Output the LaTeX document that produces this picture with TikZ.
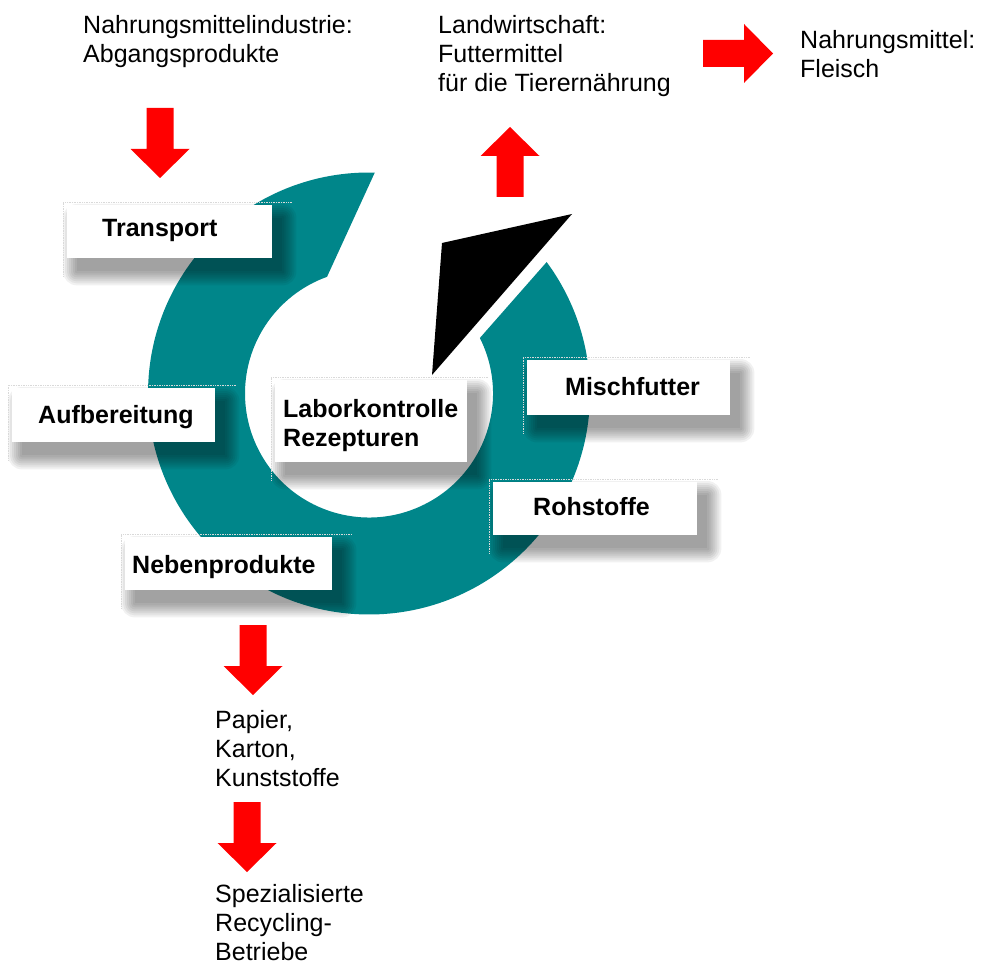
\documentclass[tikz,border=0pt]{standalone}
\usepackage{fontspec}
\setmainfont{Liberation Sans}
\usetikzlibrary{calc}
\definecolor{ringteal}{RGB}{0,134,138}
\definecolor{arrowred}{RGB}{255,0,0}
\pgfdeclarelayer{ringlayer}
\pgfdeclarelayer{shadowlayer}
\pgfsetlayers{ringlayer,shadowlayer,main}
\tikzset{
  plaintext/.style={font=\fontsize{25}{29}\selectfont, align=left, inner sep=0pt, anchor=north west},
  lblbox/.style={fill=white, inner sep=0pt, anchor=north west},
  lbltext/.style={font=\fontsize{25}{29}\selectfont\bfseries, inner sep=0pt, align=left},
  halo/.style={draw=gray!30, densely dotted, line width=0.7pt},
  blockarrow/.pic={\fill[arrowred] (-13.5,0) -- (13.5,0) -- (13.5,41) -- (29.5,41) -- (0,70) -- (-29.5,41) -- (-13.5,41) -- cycle;},
}
\newcommand\softshadow[1]{%
  \foreach \e in {14,12,...,0}{%
    \fill[black, opacity=0.055, rounded corners=\e pt] ($(#1.north west)+(10-\e,13-\e)$) rectangle ($(#1.south east)+(10+\e,13+\e)$);}%
  \draw[halo] ($(#1.south west)+(-4,18)$) -- ($(#1.north west)+(-4,-3)$) -- ($(#1.north east)+(20,-3)$);%
}
\begin{document}
\begin{tikzpicture}[x=1pt, y=-1pt]
\useasboundingbox (0,0) rectangle (981,965);
\coordinate (C) at (369,393.5);

% ring with its black arrowhead
\begin{pgfonlayer}{ringlayer}
\fill[ringteal] ($(C)+(-88.5:221)$) arc[start angle=-88.5, end angle=-396.5, radius=221]
  -- ($(C)+(-26.6:124)$) arc[start angle=-386.6, end angle=-109.8, radius=124] -- cycle;
\fill[black] (442,243) -- (572,214) -- (432,375) -- cycle;
\end{pgfonlayer}

% label boxes
\node[lblbox, minimum width=205pt, minimum height=53pt] (transportbox) at (67,205) {};
\node[lblbox, minimum width=203pt, minimum height=54pt] (aufbox) at (12,388) {};
\node[lblbox, minimum width=192pt, minimum height=82pt] (laborbox) at (275,380) {};
\node[lblbox, minimum width=203pt, minimum height=55pt] (mischbox) at (527,360) {};
\node[lblbox, minimum width=204pt, minimum height=53pt] (rohbox) at (493,482) {};
\node[lblbox, minimum width=207pt, minimum height=53pt] (nebenbox) at (125,537) {};

\begin{pgfonlayer}{shadowlayer}
\softshadow{transportbox}
\softshadow{aufbox}
\softshadow{laborbox}
\softshadow{mischbox}
\softshadow{rohbox}
\softshadow{nebenbox}
\end{pgfonlayer}

\node[lbltext, anchor=base west] (transport) at (102,237) {Transport};
\node[lbltext, anchor=base west] (aufbereitung) at (38,423) {Aufbereitung};
\node[lbltext, anchor=north west] (labor) at (283,399) {Laborkontrolle\\Rezepturen};
\node[lbltext, anchor=base west] (misch) at (565,395) {Mischfutter};
\node[lbltext, anchor=base west] (roh) at (533,515) {Rohstoffe};
\node[lbltext, anchor=base west] (neben) at (132,573) {Nebenprodukte};

% plain texts
\node[plaintext] (industrie) at (83,15) {Nahrungsmittelindustrie:\\Abgangsprodukte};
\node[plaintext] (landwirtschaft) at (438,15) {Landwirtschaft:\\Futtermittel\\für die Tierernährung};
\node[plaintext] (fleisch) at (800,30) {Nahrungsmittel:\\Fleisch};
\node[plaintext] (papier) at (215,710) {Papier,\\Karton,\\Kunststoffe};
\node[plaintext] (recycling) at (215,884) {Spezialisierte\\Recycling-\\Betriebe};

% red block arrows
\pic (arrowin) at (160,108) {blockarrow};
\pic[rotate=180] (arrowup) at (510,197) {blockarrow};
\pic[rotate=90] (arrowright) at (703,53.5) {blockarrow};
\pic (arrowneben) at (253,625) {blockarrow};
\pic (arrowpapier) at (247,802) {blockarrow};
\end{tikzpicture}
\end{document}
